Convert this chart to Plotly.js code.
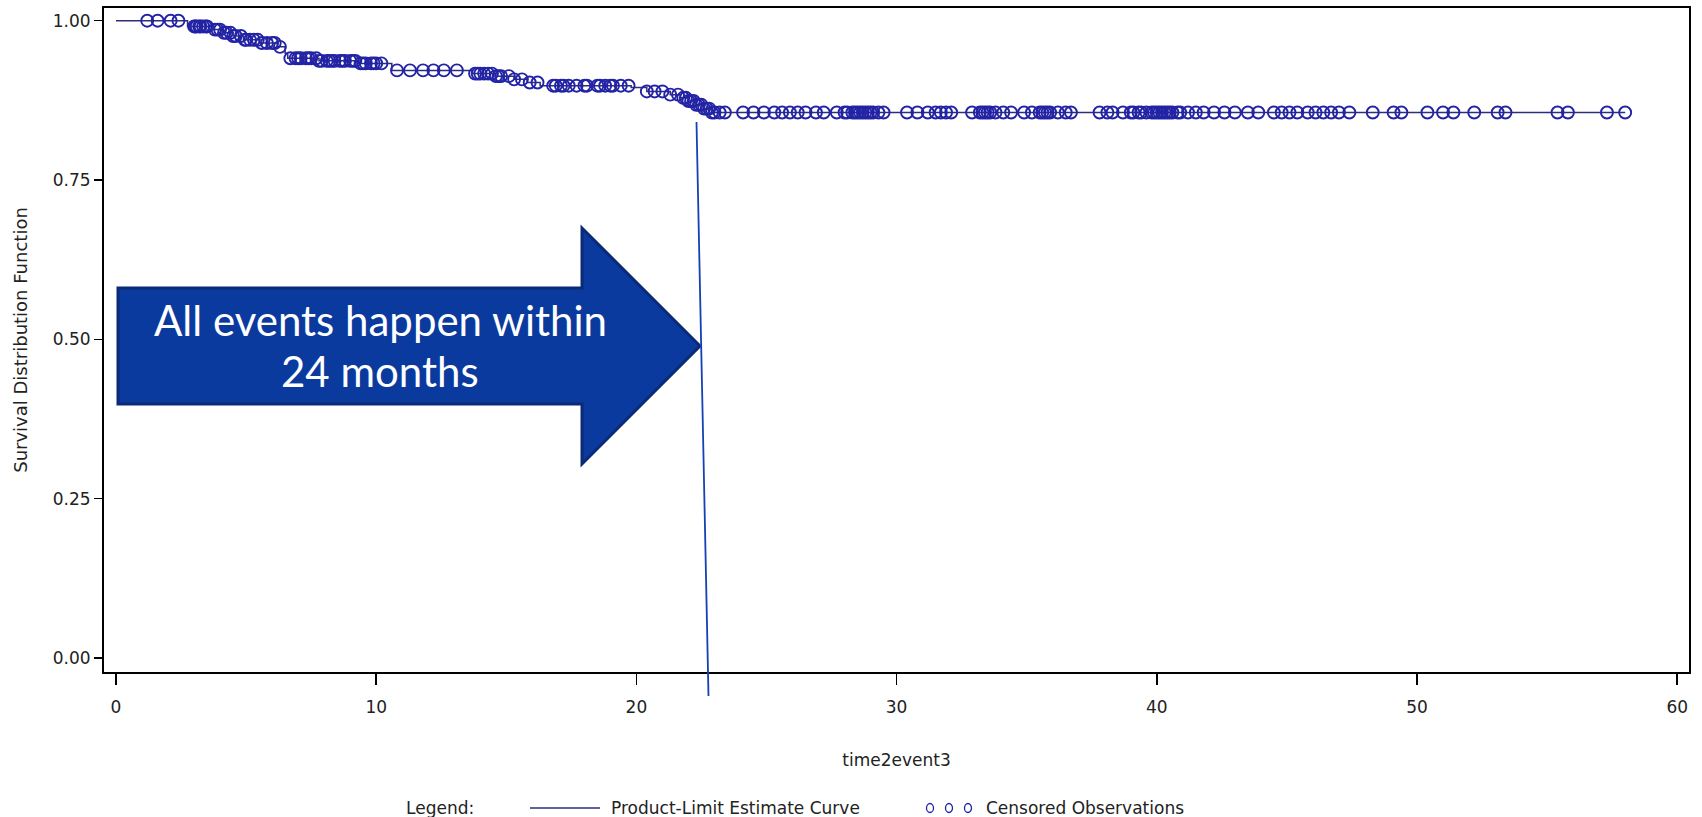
<!DOCTYPE html>
<html><head><meta charset="utf-8">
<script src="https://cdn.plot.ly/plotly-3.0.1.min.js"></script>
<style>html,body{margin:0;padding:0;background:#fff}</style>
</head><body><div id="chart" style="width:1702px;height:817px"></div>
<script>
// ---- data ----
const kmTimes = [0, 2.75, 3.7, 4.1, 4.5, 4.9, 5.5, 6.2, 6.5, 6.6, 7.8, 9.3, 10.6, 13.7, 14.6, 15.3, 15.8, 16.3, 19.8, 20.4, 21.3, 21.7, 22.0, 22.3, 22.6, 22.9, 58.0];
const kmSurv  = [1.0, 0.991, 0.986, 0.981, 0.976, 0.970, 0.965, 0.959, 0.949, 0.941, 0.937, 0.933, 0.922, 0.917, 0.913, 0.908, 0.903, 0.898, 0.895, 0.889, 0.884, 0.879, 0.874, 0.868, 0.862, 0.856, 0.856];
const censorTimes = [1.2, 1.6, 2.1, 2.4,
  3.0, 3.05, 3.1, 3.2, 3.25, 3.35, 3.45, 3.5, 3.8, 3.9, 4.0, 4.15, 4.25, 4.4, 4.5, 4.6, 4.8, 4.95, 5.0, 5.15, 5.3, 5.45, 5.6, 5.8, 6.0, 6.1, 6.3,
  6.7, 6.9, 7.0, 7.1, 7.3, 7.4, 7.5, 7.7, 7.8, 7.9, 8.1, 8.2, 8.3, 8.4, 8.6, 8.7, 8.8, 9.0, 9.1, 9.2, 9.4, 9.5, 9.6, 9.8, 9.9, 10.0, 10.2,
  10.8, 11.3, 11.8, 12.2, 12.6, 13.1,
  13.8, 13.9, 14.0, 14.15, 14.3, 14.45, 14.6, 14.7, 14.8, 15.1, 15.3, 15.6, 15.9, 16.2,
  16.8, 16.9, 17.1, 17.2, 17.4, 17.7, 18.0, 18.1, 18.5, 18.6, 18.8, 19.0, 19.1, 19.4, 19.7,
  20.4, 20.7, 21.0, 21.3, 21.6, 21.8, 21.9, 22.0, 22.1, 22.2, 22.3, 22.4, 22.5, 22.6, 22.7, 22.8, 22.9, 23.0, 23.2, 23.4,
  24.1, 24.5, 24.9, 25.3, 25.6, 25.9, 26.2, 26.5, 26.9, 27.2,
  27.7, 28.0, 28.1, 28.3, 28.4, 28.5, 28.6, 28.7, 28.8, 28.9, 29.0, 29.1, 29.3, 29.5,
  30.4, 30.8, 31.2, 31.5, 31.7, 31.9, 32.1,
  32.9, 33.2, 33.3, 33.4, 33.5, 33.6, 33.8, 34.1, 34.4,
  34.9, 35.2, 35.5, 35.6, 35.7, 35.8, 35.9, 36.2, 36.5, 36.7,
  37.8, 38.1, 38.3,
  38.7, 39.0, 39.1, 39.3, 39.4, 39.6, 39.8, 39.9, 40.0, 40.1, 40.2, 40.3, 40.4, 40.5, 40.6, 40.8, 40.9, 41.2, 41.5, 41.8,
  42.2, 42.6, 43.0, 43.5, 43.9,
  44.5, 44.8, 45.1, 45.4, 45.8, 46.1, 46.4, 46.7, 47.0, 47.4,
  48.3, 49.1, 49.4, 50.4, 51.0, 51.4, 52.2, 53.1, 53.4, 55.4, 55.8, 57.3, 58.0];
const xTickVals = [0, 10, 20, 30, 40, 50, 60];
const yTickVals = [0, 0.25, 0.5, 0.75, 1];
const yTickText = ['0.00', '0.25', '0.50', '0.75', '1.00'];
const xTitle = 'time2event3';
const yTitle = 'Survival Distribution Function';
const curveName = 'Product-Limit Estimate Curve';
const censorName = 'Censored Observations';
const legendLabel = 'Legend:';
const calloutLines = ['All events happen within', '24 months'];

// survival level of the step function at time t (censoring marks sit on the curve)
function survAt(t) {
  let s = kmSurv[0];
  for (let i = 0; i < kmTimes.length; i++) if (kmTimes[i] <= t) s = kmSurv[i];
  return s;
}
const censorSurv = censorTimes.map(survAt);

// ---- page geometry ----
const W = 1702, H = 817;
const M = {l: 104, r: 13, t: 8, b: 145};
const PW = W - M.l - M.r, PH = H - M.t - M.b;
const px = X => (X - M.l) / PW;          // pixel -> paper x
const py = Y => (H - M.b - Y) / PH;      // pixel -> paper y

const FONT = 'DejaVu Sans, Liberation Sans, Arial, sans-serif';
const NAVY = '#2e2e7a';
const MARK = '#2323a6';
const TXT = '#222';

const traces = [
  {x: kmTimes, y: kmSurv, type: 'scatter', mode: 'lines', name: curveName,
   line: {shape: 'hv', color: NAVY, width: 1.5}, showlegend: false, hoverinfo: 'x+y'},
  {x: censorTimes, y: censorSurv, type: 'scatter', mode: 'markers', name: censorName,
   marker: {symbol: 'circle-open', size: 12, color: MARK, line: {width: 1.9, color: MARK}},
   showlegend: false, hoverinfo: 'x+y'}
];

// callout arrow (pixel outline converted to paper space)
const arrowPts = [[118, 288], [582, 288], [582, 228], [700, 346], [582, 464], [582, 404], [118, 404]];
const arrowPath = 'M' + arrowPts.map(p => px(p[0]).toFixed(5) + ',' + py(p[1]).toFixed(5)).join(' L') + ' Z';

const shapes = [
  {type: 'path', xref: 'paper', yref: 'paper', path: arrowPath,
   fillcolor: '#0b3a9f', line: {color: '#0a2a78', width: 3}, layer: 'above'},
  {type: 'line', xref: 'paper', yref: 'paper', x0: px(696.5), y0: py(122), x1: px(708.5), y1: py(696),
   line: {color: '#1541b5', width: 1.8}, layer: 'above'},
  // legend glyphs
  {type: 'line', xref: 'paper', yref: 'paper', x0: px(530), y0: py(808), x1: px(600), y1: py(808),
   line: {color: NAVY, width: 1.5}}
];
[930, 949, 968].forEach(cx => shapes.push({
  type: 'circle', xref: 'paper', yref: 'paper', xsizemode: 'pixel', ysizemode: 'pixel',
  xanchor: px(cx), yanchor: py(808), x0: -3.5, x1: 3.5, y0: -4.5, y1: 4.5,
  line: {color: MARK, width: 1.3}, fillcolor: 'rgba(0,0,0,0)'
}));

const calloutFont = {family: 'Lato, Open Sans, sans-serif', size: 42, color: '#ffffff'};
const annotations = [
  {xref: 'paper', yref: 'paper', x: px(380), y: py(320), text: calloutLines[0], showarrow: false,
   xanchor: 'center', yanchor: 'middle', font: calloutFont},
  {xref: 'paper', yref: 'paper', x: px(380), y: py(371), text: calloutLines[1], showarrow: false,
   xanchor: 'center', yanchor: 'middle', font: calloutFont},
  {xref: 'paper', yref: 'paper', x: px(404), y: py(808), text: legendLabel, showarrow: false,
   xanchor: 'left', yanchor: 'middle', font: {family: FONT, size: 17, color: TXT}},
  {xref: 'paper', yref: 'paper', x: px(609), y: py(808), text: curveName, showarrow: false,
   xanchor: 'left', yanchor: 'middle', font: {family: FONT, size: 17, color: TXT}},
  {xref: 'paper', yref: 'paper', x: px(984), y: py(808), text: censorName, showarrow: false,
   xanchor: 'left', yanchor: 'middle', font: {family: FONT, size: 17, color: TXT}}
];

const axisCommon = {
  showgrid: false, zeroline: false, showline: true, linecolor: '#000', linewidth: 2,
  mirror: true, ticks: 'outside', tickcolor: '#000', tickwidth: 1.5,
  tickfont: {family: FONT, size: 17, color: TXT}, fixedrange: true
};

const layout = {
  width: W, height: H, margin: M, paper_bgcolor: '#fff', plot_bgcolor: '#fff',
  showlegend: false,
  xaxis: Object.assign({}, axisCommon, {
    range: [(M.l - 116) / 26.02, (W - M.r - 116) / 26.02], tickvals: xTickVals, ticklen: 11,
    ticklabelstandoff: 8,
    title: {text: xTitle, font: {family: FONT, size: 17, color: TXT}, standoff: 38}
  }),
  yaxis: Object.assign({}, axisCommon, {
    range: [(658 - (H - M.b)) / 637.3, 1 + (20.7 - M.t) / 637.3], tickvals: yTickVals, ticktext: yTickText,
    ticklen: 8,
    title: {text: yTitle, font: {family: FONT, size: 18, color: TXT}, standoff: 20}
  }),
  shapes: shapes, annotations: annotations
};

Plotly.newPlot('chart', traces, layout, {displayModeBar: false, staticPlot: true});
</script></body></html>
